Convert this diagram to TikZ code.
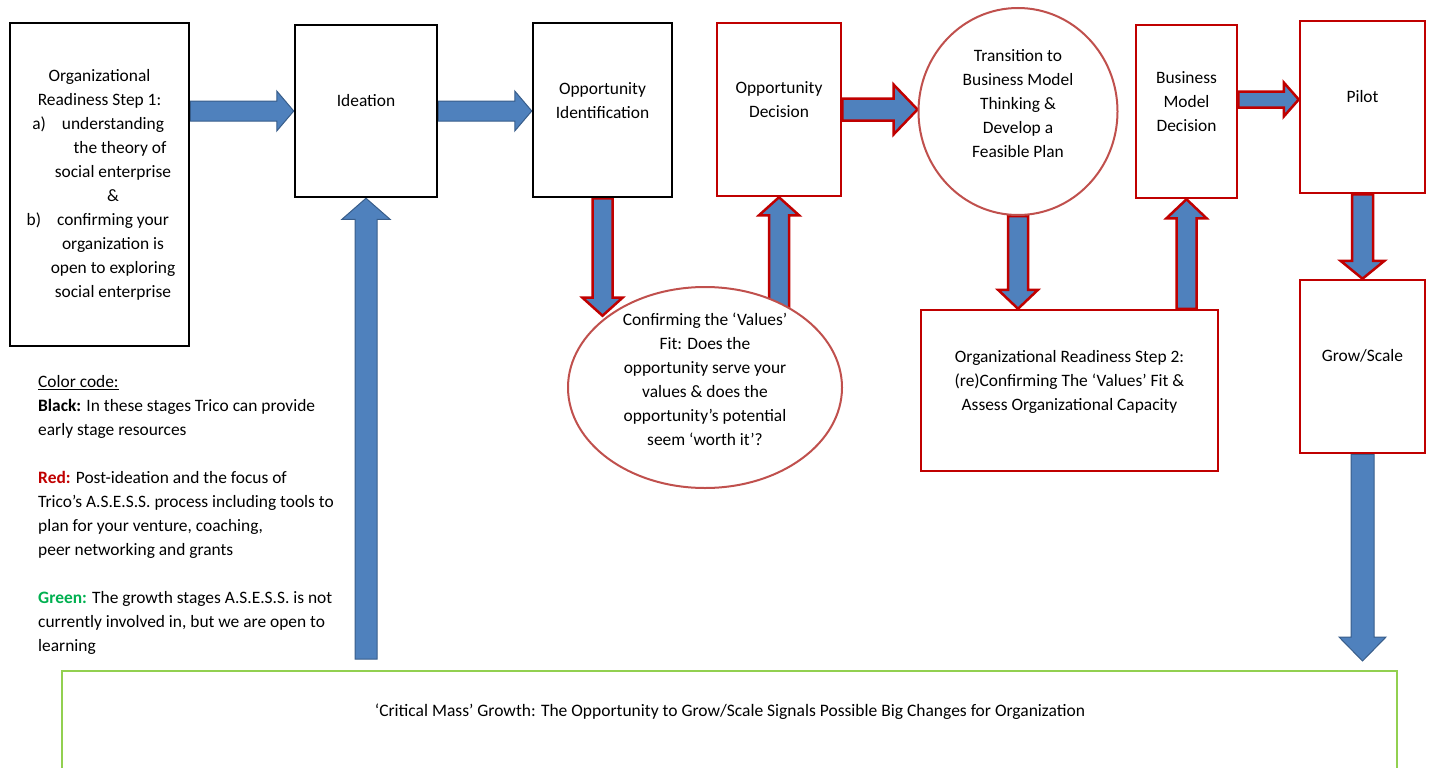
\documentclass[tikz,border=0pt]{standalone}
\usepackage{fontspec}
\setmainfont{Carlito}
\usetikzlibrary{calc,backgrounds,shapes.geometric}

\definecolor{boxred}{HTML}{C00000}
\definecolor{ovalred}{HTML}{C0504D}
\definecolor{arrowblue}{HTML}{4F81BD}
\definecolor{arrowedge}{HTML}{385D8A}
\definecolor{growgreen}{HTML}{92D050}
\definecolor{legendgreen}{HTML}{00B050}

\newcommand\boxfont{\fontsize{17.4}{24}\selectfont}
\newcommand\shafthalf{10pt}
\newcommand\headhalf{20pt}
\newcommand\headlen{18pt}

% block arrow from #2 to #3 (any direction)
\newcommand\blockarrow[3][]{%
  \filldraw[#1] let \p1=(#2), \p2=(#3),
      \n1={veclen(\x2-\x1,\y2-\y1)},
      \n2={(\x2-\x1)/\n1}, \n3={(\y2-\y1)/\n1} in
    ({\x1-(\n3)*\shafthalf},{\y1+(\n2)*\shafthalf})
    -- ({\x2-(\n2)*\headlen-(\n3)*\shafthalf},{\y2-(\n3)*\headlen+(\n2)*\shafthalf})
    -- ({\x2-(\n2)*\headlen-(\n3)*\headhalf},{\y2-(\n3)*\headlen+(\n2)*\headhalf})
    -- (\p2)
    -- ({\x2-(\n2)*\headlen+(\n3)*\headhalf},{\y2-(\n3)*\headlen-(\n2)*\headhalf})
    -- ({\x2-(\n2)*\headlen+(\n3)*\shafthalf},{\y2-(\n3)*\headlen-(\n2)*\shafthalf})
    -- ({\x1+(\n3)*\shafthalf},{\y1-(\n2)*\shafthalf}) -- cycle;}

\tikzset{
  blackbox/.style={draw=black,line width=2.5pt,fill=white,inner sep=0pt},
  redbox/.style={draw=boxred,line width=2.5pt,fill=white,inner sep=0pt},
  redoval/.style={ellipse,draw=ovalred,line width=2pt,fill=white,inner sep=0pt},
  greenbox/.style={draw=growgreen,line width=2pt,inner sep=0pt},
  boxtext/.style={align=center,font=\boxfont,inner sep=0pt},
  bluearrow/.style={fill=arrowblue,draw=arrowedge,line width=1pt},
  redarrow/.style={fill=arrowblue,draw=boxred,line width=2.5pt},
  shaftw/.code={\def\shafthalf{#1}},
  headw/.code={\def\headhalf{#1}},
  headl/.code={\def\headlen{#1}}
}

\begin{document}
\begin{tikzpicture}[x=1pt,y=-1pt]
  \useasboundingbox (0,0) rectangle (1432,768);
  \clip (0,0) rectangle (1432,768);

  % --- stages ---
  \node[blackbox,minimum width=179pt,minimum height=323pt] (step1) at (99.5,184.5) {};
  \node[boxtext] at (step1) {Organizational\\Readiness Step 1:\\
    \hspace*{27pt}\llap{a)\hspace{16pt}}understanding\\
    \hspace*{41pt}the theory of\\
    \hspace*{27pt}social enterprise\\
    \hspace*{27pt}\&\\
    \hspace*{27pt}\llap{b)\hspace{16pt}}confirming your\\
    \hspace*{27pt}organization is\\
    \hspace*{27pt}open to exploring\\
    \hspace*{27pt}social enterprise};

  \node[blackbox,minimum width=142pt,minimum height=172pt] (ideation) at (366,111) {};
  \node[boxtext] at ([yshift=10pt]ideation) {Ideation};

  \node[blackbox,minimum width=139pt,minimum height=174pt] (oppid) at (602.5,110) {};
  \node[boxtext] at ([yshift=9pt]oppid) {Opportunity\\Identification};

  \node[redbox,minimum width=124pt,minimum height=173pt] (oppdec) at (779,109.5) {};
  \node[boxtext] at ([yshift=9.5pt]oppdec) {Opportunity\\Decision};

  \node[redoval,minimum width=199pt,minimum height=207pt] (transition) at (1018,111.5) {};
  \node[boxtext] at ([yshift=7.5pt]transition) {Transition to\\Business Model\\Thinking \&\\Develop a\\Feasible Plan};

  \node[redbox,minimum width=101pt,minimum height=173pt] (bmdec) at (1186.5,111.5) {};
  \node[boxtext] at ([yshift=9.5pt]bmdec) {Business\\Model\\Decision};

  \node[redbox,minimum width=125pt,minimum height=172pt] (pilot) at (1362.5,107) {};
  \node[boxtext] at ([yshift=10pt]pilot) {Pilot};

  \node[redbox,minimum width=125pt,minimum height=173pt] (grow) at (1362.5,366.5) {};
  \node[boxtext] at ([yshift=11pt]grow) {Grow/Scale};

  \node[redoval,minimum width=274pt,minimum height=201pt] (values) at (705,387.5) {};
  \node[boxtext] at ([yshift=8.5pt]values) {Confirming the ‘Values’\\Fit: Does the\\opportunity serve your\\values \& does the\\opportunity’s potential\\seem ‘worth it’?};

  \node[redbox,minimum width=297pt,minimum height=161pt] (step2) at (1069.5,390.5) {};
  \node[boxtext] at ([yshift=9pt]step2) {Organizational Readiness Step 2:\\(re)Confirming The ‘Values’ Fit \&\\Assess Organizational Capacity};

  \node[greenbox,minimum width=1335pt,minimum height=129pt] (critical) at (729.5,735.5) {};
  \node[boxtext,font=\fontsize{17.5}{20}\selectfont] at (730,712)
    {‘Critical Mass’ Growth: The Opportunity to Grow/Scale Signals Possible Big Changes for Organization};

  % --- colour legend ---
  \node[boxtext,align=left,anchor=north west] (legend) at (38,375) {\underline{Color code:}\\
    \textbf{Black:} In these stages Trico can provide\\
    early stage resources\\[24pt]
    \textcolor{boxred}{\textbf{Red:}} Post-ideation and the focus of\\
    Trico’s A.S.E.S.S. process including tools to\\
    plan for your venture, coaching,\\
    peer networking and grants\\[24pt]
    \textcolor{legendgreen}{\textbf{Green:}} The growth stages A.S.E.S.S. is not\\
    currently involved in, but we are open to\\
    learning};

  \coordinate (bmout) at ([yshift=12pt]bmdec.east);
  \coordinate (critin) at ($(grow.south |- critical.north)+(0,-9)$);
  \coordinate (critout) at ($(ideation.south |- critical.north)+(0,-11)$);

  % --- block arrows ---
  \begin{pgfonlayer}{background}
    \blockarrow[bluearrow,headl=17pt]{step1.east |- ideation.west}{ideation.west}
    \blockarrow[bluearrow,headl=17pt]{ideation.east}{oppid.west |- ideation.east}
    \blockarrow[redarrow,shaftw=11pt,headw=25pt,headl=24pt]{oppdec.east}{transition.west |- oppdec.east}
    \blockarrow[redarrow,shaftw=8pt,headw=17pt,headl=15pt]{bmout}{pilot.west |- bmout}
    \blockarrow[redarrow]{oppid.south}{oppid.south |- values.north west}
    \blockarrow[redarrow]{oppdec.south |- values.north east}{oppdec.south}
    \blockarrow[redarrow,headl=19pt]{transition.south}{transition.south |- step2.north}
    \blockarrow[redarrow,headl=19pt]{bmdec.south |- step2.north}{bmdec.south}
    \blockarrow[redarrow,shaftw=10.5pt,headw=22pt]{pilot.south}{grow.north}
    \blockarrow[bluearrow,shaftw=11.5pt,headw=23.5pt,headl=24pt]{grow.south}{critin}
    \blockarrow[bluearrow,shaftw=11pt,headw=24pt,headl=21pt]{critout}{ideation.south}
  \end{pgfonlayer}
\end{tikzpicture}
\end{document}
